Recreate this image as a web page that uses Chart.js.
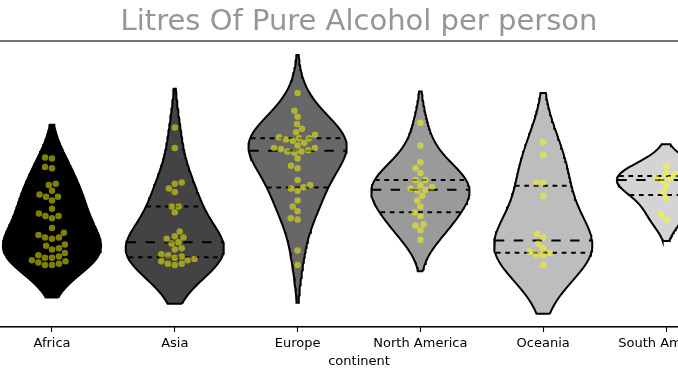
<!DOCTYPE html>
<html><head><meta charset="utf-8">
<style>
html,body{margin:0;padding:0;overflow:hidden;background:#fff;width:678px;height:381px}
#wrap{position:absolute;left:-20px;top:0;width:760px;height:381px}
</style>
<script src="https://cdn.jsdelivr.net/npm/chart.js@4.4.0/dist/chart.umd.min.js"></script>
</head><body><div id="wrap"><canvas id="c"></canvas></div>
<script>
// ---- data (litres of pure alcohol per person) ----
const continents = ['Africa', 'Asia', 'Europe', 'North America', 'Oceania', 'South America'];
const africa = [9.0, 8.9, 8.2, 8.1, 6.8, 6.7, 6.2, 5.9, 5.7, 5.7, 5.4, 4.7, 4.3, 4.1, 4.1, 3.9, 3.1, 2.7, 2.5, 2.3, 2.3, 2.2, 1.7, 1.6, 1.4, 1.3, 1.0, 0.8, 0.7, 0.6, 0.6, 0.4, 0.3, 0.2, 0.1, 0.0, 0.0];
const asia = [11.5, 9.8, 6.9, 6.8, 6.4, 6.1, 4.9, 4.9, 4.4, 2.8, 2.4, 2.3, 2.2, 1.9, 1.8, 1.4, 1.3, 0.9, 0.8, 0.7, 0.6, 0.5, 0.4, 0.3, 0.1, 0.1, 0.0];
const europe = [14.4, 12.9, 12.4, 11.8, 11.4, 11.1, 10.9, 10.7, 10.6, 10.6, 10.5, 10.4, 10.2, 10.0, 9.8, 9.8, 9.7, 9.6, 9.5, 9.5, 9.4, 8.9, 8.3, 8.1, 7.1, 6.7, 6.5, 6.4, 6.2, 5.4, 4.9, 4.5, 3.9, 3.8, 1.2, 0.0];
const northAmerica = [11.9, 10.0, 8.6, 8.1, 7.7, 7.1, 7.1, 6.7, 6.5, 6.4, 6.3, 6.2, 5.8, 5.4, 4.9, 4.4, 4.1, 3.4, 3.3, 2.9, 2.1];
const oceania = [10.3, 9.2, 6.9, 6.9, 5.8, 2.6, 2.3, 1.8, 1.4, 1.1, 1.0, 0.9, 0.8, 0.0];
const southAmerica = [8.3, 7.7, 7.6, 7.3, 7.2, 7.1, 6.6, 6.1, 5.6, 4.2, 3.8];
const series = [africa, asia, europe, northAmerica, oceania, southAmerica];
const violinColors = ['#000000', '#434343', '#676767', '#9a9a9a', '#bdbdbd', '#d4d4d4'];
const titleText = 'Litres Of Pure Alcohol per person';
const xTitle = 'continent';

// ---- statistics (scott bandwidth, width scaling) ----
const HALF = 0.4, BW_ADJUST = 1.3, CUT = 1.55;
function kde(vals) {
  const n = vals.length;
  const mean = vals.reduce((a, b) => a + b, 0) / n;
  const sd = Math.sqrt(vals.reduce((a, b) => a + (b - mean) * (b - mean), 0) / (n - 1));
  const bw = sd * Math.pow(n, -0.2) * BW_ADJUST;
  const lo = Math.min(...vals) - CUT * bw, hi = Math.max(...vals) + CUT * bw;
  const grid = [], dens = [];
  for (let j = 0; j < 100; j++) {
    const g = lo + (hi - lo) * j / 99;
    let s = 0;
    for (const v of vals) { const z = (g - v) / bw; s += Math.exp(-0.5 * z * z); }
    grid.push(g); dens.push(s / (n * bw * Math.sqrt(2 * Math.PI)));
  }
  const mx = Math.max(...dens);
  return { grid, dens: dens.map(d => d / mx) };
}
function pct(vals, p) {
  const s = [...vals].sort((a, b) => a - b);
  const idx = (s.length - 1) * p / 100, lo = Math.floor(idx), hi = Math.ceil(idx);
  return s[lo] + (s[hi] - s[lo]) * (idx - lo);
}

const pointSets = [], quartileSets = [], violinSets = [];
series.forEach((vals, i) => {
  const k = kde(vals);
  const outline = [];
  for (let j = 0; j < k.grid.length; j++) outline.push({ x: i + HALF * k.dens[j], y: k.grid[j] });
  for (let j = k.grid.length - 1; j >= 0; j--) outline.push({ x: i - HALF * k.dens[j], y: k.grid[j] });
  outline.push({ ...outline[0] });
  violinSets.push({
    data: outline, showLine: true, fill: 'shape', backgroundColor: violinColors[i],
    borderColor: '#000', borderWidth: 2, pointRadius: 0, tension: 0, order: 3
  });
  [25, 50, 75].forEach(p => {
    const q = pct(vals, p);
    let best = 0;
    k.grid.forEach((g, j) => { if (Math.abs(g - q) < Math.abs(k.grid[best] - q)) best = j; });
    const w = HALF * k.dens[best] * 0.99;
    quartileSets.push({
      data: [{ x: i - w, y: q }, { x: i + w, y: q }], showLine: true, fill: false,
      borderColor: '#000', borderWidth: 2, pointRadius: 0,
      borderDash: p === 50 ? [9.4, 9.4] : [4.7, 4.7], order: 2
    });
  });
  pointSets.push({
    data: vals.map(v => ({ x: i, y: v })), showLine: false, pointRadius: 3.25,
    pointBackgroundColor: 'rgba(255,255,0,0.5)', pointBorderWidth: 0, pointHoverRadius: 3.25, order: 1
  });
});

const framePlugin = {
  id: 'frame',
  afterDraw(chart) {
    const { ctx, chartArea: a } = chart;
    ctx.save();
    ctx.strokeStyle = '#000'; ctx.lineWidth = 1.1;
    ctx.strokeRect(a.left, a.top, a.right - a.left, a.bottom - a.top);
    ctx.restore();
  }
};

const chart = new Chart(document.getElementById('c'), {
  type: 'scatter',
  data: { datasets: [...pointSets, ...quartileSets, ...violinSets] },
  options: {
    responsive: true, maintainAspectRatio: false, animation: false,
    layout: { padding: { left: 10.6, right: 12.6, top: 0, bottom: 0 } },
    plugins: {
      legend: { display: false }, tooltip: { enabled: false },
      title: {
        display: true, text: titleText, color: '#969696',
        font: { family: 'DejaVu Sans', size: 29, weight: 'normal', lineHeight: 1.2 },
        padding: { top: 5.2, bottom: 1 }
      }
    },
    scales: {
      x: {
        type: 'linear', min: -0.5, max: 5.5, offset: false,
        afterBuildTicks: s => { s.ticks = continents.map((c, i) => ({ value: i })); },
        afterFit: s => { s.height = 54; },
        ticks: {
          callback: v => continents[v] ?? '', autoSkip: false, maxRotation: 0,
          font: { family: 'DejaVu Sans', size: 13 }, color: '#000', padding: 3.5
        },
        grid: { display: true, drawOnChartArea: false, drawTicks: true, tickLength: 5, tickWidth: 1.1, tickColor: '#000' },
        border: { display: true, color: '#000', width: 1.1 },
        title: { display: true, text: xTitle, color: '#000', font: { family: 'DejaVu Sans', size: 13 }, padding: { top: 0, bottom: 12 } }
      },
      y: { display: false, min: -5.2, max: 18.75 }
    }
  },
  plugins: [framePlugin]
});

// ---- swarm layout (beeswarm in pixel space) ----
function layoutSwarm() {
  const xs = chart.scales.x, ys = chart.scales.y;
  const pxPerX = xs.getPixelForValue(1) - xs.getPixelForValue(0);
  const d = 6.7;
  series.forEach((vals, i) => {
    const pts = vals.map(v => ({ v, py: -ys.getPixelForValue(v), x: 0 }));
    pts.sort((a, b) => a.py - b.py);
    const swarm = [];
    pts.forEach((p, idx) => {
      if (idx === 0) { swarm.push(p); return; }
      const neighbors = [];
      for (let j = swarm.length - 1; j >= 0; j--) {
        if (p.py - swarm[j].py < d) neighbors.unshift(swarm[j]); else break;
      }
      const cands = [0];
      let leftFirst = true;
      neighbors.forEach(nb => {
        const dy = p.py - nb.py;
        const dx = Math.sqrt(Math.max(d * d - dy * dy, 0)) * 1.05;
        if (leftFirst) cands.push(nb.x - dx, nb.x + dx); else cands.push(nb.x + dx, nb.x - dx);
        leftFirst = !leftFirst;
      });
      const order = cands.map((c, k) => ({ c, k })).sort((a, b) => (Math.abs(a.c) - Math.abs(b.c)) || (a.k - b.k));
      let chosen = 0;
      for (const o of order) {
        if (neighbors.every(nb => (nb.x - o.c) ** 2 + (nb.py - p.py) ** 2 >= d * d)) { chosen = o.c; break; }
      }
      p.x = chosen;
      swarm.push(p);
    });
    chart.data.datasets[i].data = swarm.map(p => ({ x: i + p.x / pxPerX, y: p.v }));
  });
  chart.update('none');
}
layoutSwarm();
</script></body></html>
